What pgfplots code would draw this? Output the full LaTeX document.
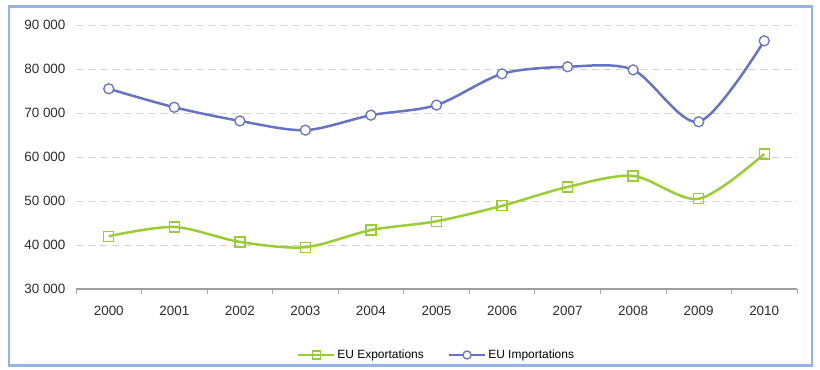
\documentclass[border=0pt]{standalone}
\usepackage{pgfplots}
\pgfplotsset{compat=1.18}
\usepackage{fontspec}
\setmainfont{Liberation Sans}
\definecolor{impblue}{RGB}{104,114,196}
\definecolor{expgreen}{RGB}{154,204,52}
\definecolor{labgray}{RGB}{45,45,45}
\definecolor{framblue}{RGB}{150,180,225}
\begin{document}
\begin{tikzpicture}[x=1bp,y=1bp]
\begin{axis}[
  scale only axis,
  width=721bp, height=264bp,
  xmin=-0.5, xmax=10.5,
  ymin=30000, ymax=90000,
  scaled y ticks=false,
  axis line style={draw=none},
  axis x line*=bottom,
  axis y line*=left,
  xtick={0,...,10},
  xticklabels={2000,2001,2002,2003,2004,2005,2006,2007,2008,2009,2010},
  minor xtick={-0.5,0.5,...,10.5},
  ytick={30000,40000,50000,60000,70000,80000,90000},
  yticklabels={30 000,40 000,50 000,60 000,70 000,80 000,90 000},
  major tick length=0pt,
  minor tick length=5bp,
  tick align=outside,
  minor tick style={gray!70, line width=0.8pt},
  ymajorgrids,
  grid style={dash pattern=on 7bp off 5bp, gray!35, line width=0.9pt},
  ticklabel style={font=\fontsize{13.5}{15}\selectfont, text=labgray},
  xticklabel style={yshift=-14bp},
  yticklabel style={xshift=-7bp},
  legend style={at={(0.5,-0.215)}, anchor=north, draw=none, fill=none,
     legend columns=2, font=\fontsize{12}{14}\selectfont, text=black,
     /tikz/every even column/.append style={column sep=22bp}},
  legend cell align=left,
  legend image code/.code={%
     \draw[#1] (0bp,0bp) -- (36bp,0bp);
     \draw[#1, only marks, mark size=4bp] plot coordinates {(18bp,0bp)};},
  clip=false,
]
\draw[gray!75, line width=1.2pt] (rel axis cs:0,0) -- (rel axis cs:1,0);
\draw[framblue, line width=2.5pt] (rel axis cs:-0.093,-0.29) rectangle (rel axis cs:1.021,1.07);
\path (rel axis cs:-0.1054,-0.3068) rectangle (rel axis cs:1.0319,1.0947);
\addplot[expgreen, line width=2.5pt, smooth, tension=0.5, mark=square, mark size=5bp,
  mark options={fill=white, line width=1.3pt}]
  coordinates {(0,42000)(1,44100)(2,40700)(3,39500)(4,43400)(5,45400)(6,48900)(7,53200)(8,55700)(9,50500)(10,60700)};
\addlegendentry{EU Exportations}
\addplot[impblue, line width=2.5pt, smooth, tension=0.5, mark=*, mark size=5bp,
  mark options={fill=white, line width=1.3pt}]
  coordinates {(0,75500)(1,71300)(2,68200)(3,66100)(4,69500)(5,71800)(6,78900)(7,80500)(8,79800)(9,68000)(10,86400)};
\addlegendentry{EU Importations}
\end{axis}
\end{tikzpicture}
\end{document}
